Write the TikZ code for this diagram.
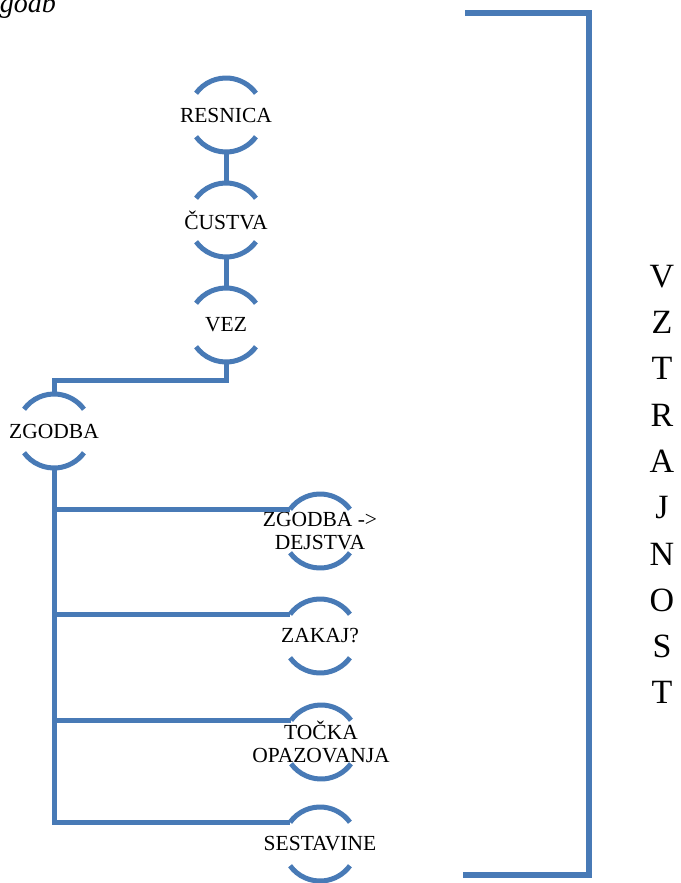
\documentclass[tikz,border=0pt]{standalone}
\usepackage{fontspec}
\setmainfont{Liberation Serif}
\definecolor{lb}{RGB}{72,122,182}
\begin{document}
\begin{tikzpicture}[x=1pt,y=1pt,
  ln/.style={draw=lb,line width=5pt},
  hub/.style={circle,minimum size=74pt,inner sep=0pt,outer sep=0pt},
  lbl/.style={font=\fontsize{21.5}{22.5}\selectfont,align=center,inner sep=0pt}]
\useasboundingbox (0,0) rectangle (680,-883);
\node[anchor=base east,inner sep=0pt,font=\fontsize{28}{30}\selectfont\itshape] (ttl) at (56,-13) {godb};
% hubs
\node[hub] (res) at (226,-115) {};
\node[hub] (cus) at (226,-220) {};
\node[hub] (vez) at (226,-325) {};
\node[hub] (zg)  at (54,-431) {};
\node[hub] (s1)  at (320,-531) {};
\node[hub] (s2)  at (320,-636) {};
\node[hub] (s3)  at (321,-742) {};
\node[hub] (s4)  at (320,-844) {};
\node[lbl] (resT) at (res.center) {RESNICA};
\node[lbl] (cusT) at (cus.center) {ČUSTVA};
\node[lbl] (vezT) at (vez.center) {VEZ};
\node[lbl] (zgT)  at (zg.center) {ZGODBA};
\node[lbl] (s1T)  at (s1.center) {ZGODBA ->\\DEJSTVA};
\node[lbl] (s2T)  at (s2.center) {ZAKAJ?};
\node[lbl] (s3T)  at (s3.center) {TOČKA\\OPAZOVANJA};
\node[lbl] (s4T)  at (s4.center) {SESTAVINE};
\foreach \n in {res,cus,vez,zg,s1,s2,s3,s4} {
  \draw[ln] (\n.144) arc[start angle=144,end angle=36,radius=37];
  \draw[ln] (\n.216) arc[start angle=216,end angle=324,radius=37];
}
% connectors
\draw[ln] (res.south) -- (cus.north);
\draw[ln] (cus.south) -- (vez.north);
\draw[ln] (vez.south) -- ++(0,-18) -| (zg.north);
\draw[ln] (zg.south) |- (s1.144);
\draw[ln] (zg.south) |- (s2.144);
\draw[ln] (zg.south) |- (s3.144);
\draw[ln] (zg.south) |- (s4.144);
% bracket
\draw[draw=lb,line width=6pt] (465,-13) -- (589,-13) -- (589,-875) -- (463,-875);
\node[font=\fontsize{34}{46.3}\selectfont,align=center,inner sep=0pt] (vz) at (662,-484.5) {V\\Z\\T\\R\\A\\J\\N\\O\\S\\T};
\end{tikzpicture}
\end{document}
